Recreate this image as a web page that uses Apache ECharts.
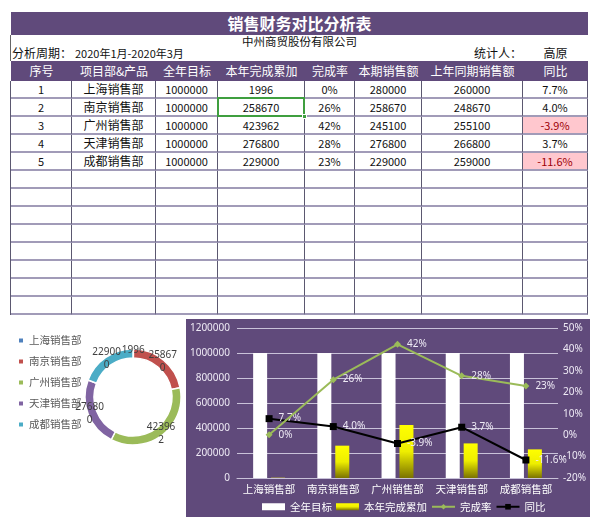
<!DOCTYPE html>
<html><head><meta charset="utf-8">
<script src="https://cdn.jsdelivr.net/npm/echarts@6/dist/echarts.min.js"></script>
<style>
body{margin:0;width:600px;height:527px;background:#fff;position:relative;overflow:hidden;font-family:"Noto Sans CJK SC","Noto Sans",sans-serif;}
.abs{position:absolute;}
.cell{position:absolute;box-sizing:border-box;border-right:1px solid #5b5870;border-bottom:2px solid #a19bb8;text-align:center;line-height:16px;font-size:11px;color:#111;white-space:nowrap;overflow:hidden;}
.hcell{position:absolute;text-align:center;line-height:20px;font-size:12px;color:#fff;white-space:nowrap;}
</style></head><body>
<div id="sheet"></div>
<div id="pie" class="abs" style="left:0;top:318px;width:186px;height:209px"></div>
<div id="combo" class="abs" style="left:186px;top:319px;width:404px;height:198px"></div>
<script>
// ---- data ----
const title = '销售财务对比分析表';
const company = '中州商贸股份有限公司';
const periodLabel = '分析周期：';
const periodValue = '2020年1月-2020年3月';
const statLabel = '统计人：';
const statPerson = '高原';
const headers = ['序号','项目部&产品','全年目标','本年完成累加','完成率','本期销售额','上年同期销售额','同比'];
const departments = ['上海销售部','南京销售部','广州销售部','天津销售部','成都销售部'];
const annualTarget = [1000000,1000000,1000000,1000000,1000000];
const ytdCompleted = [1996,258670,423962,276800,229000];
const completionRate = [0.2,25.9,42.4,27.7,22.9];
const currentSales = [280000,258670,245100,276800,229000];
const lastYearSales = [260000,248670,255100,266800,259000];
const yoyChange = [7.7,4.0,-3.9,3.7,-11.6];
const pieColors = ['#4F81BD','#C0504D','#9BBB59','#8064A2','#4BACC6'];

// ---- sheet layout ----
const colW = [61,84,62,87,50,67,101,65];
const left0 = 11;
const colX = []; { let x = left0; colW.forEach(w => { colX.push(x); x += w; }); }
const totalW = colW.reduce((a,b)=>a+b,0);
const sheet = document.getElementById('sheet');
function add(html){ sheet.insertAdjacentHTML('beforeend', html); }
const purple = '#604A7B';
add(`<div class="abs" style="left:${left0}px;top:12px;width:${totalW}px;height:23px;background:${purple};color:#fff;font-weight:700;font-size:16px;line-height:23px;text-align:center;">${title}</div>`);
add(`<div class="abs" style="left:${left0-1}px;top:35px;width:1px;height:26px;background:#666;"></div>`);
add(`<div class="abs" style="left:${left0}px;top:34px;width:${totalW}px;text-align:center;font-size:11.5px;line-height:15px;color:#111;">${company}</div>`);
add(`<div class="abs" style="left:12px;top:45px;font-size:12px;line-height:15px;color:#111;">${periodLabel}</div>`);
add(`<div class="abs" style="left:75px;top:46px;font-size:11px;line-height:14px;color:#111;">${periodValue}</div>`);
add(`<div class="abs" style="left:474px;top:45px;font-size:12px;line-height:15px;color:#111;">${statLabel}</div>`);
add(`<div class="abs" style="left:${colX[7]}px;top:45px;width:${colW[7]}px;text-align:center;font-size:12px;line-height:15px;color:#111;">${statPerson}</div>`);
add(`<div class="abs" style="left:${left0}px;top:61px;width:${totalW}px;height:20px;background:${purple};"></div>`);
headers.forEach((h,i)=>add(`<div class="hcell" style="left:${colX[i]}px;top:61px;width:${colW[i]}px;">${h.replace('&','&amp;')}</div>`));
const rowH = 18, top0 = 81, nRows = 13;
add(`<div class="abs" style="left:${left0-1}px;top:${top0}px;width:1px;height:${rowH*nRows}px;background:#5b5870;"></div>`);
for(let r=0;r<nRows;r++){
  const vals = r < departments.length ? [r+1, departments[r], annualTarget[r], ytdCompleted[r], Math.round(completionRate[r])+'%', currentSales[r], lastYearSales[r], yoyChange[r].toFixed(1)+'%'] : ['','','','','','','',''];
  vals.forEach((v,c)=>{
    let extra = '';
    if(c===7 && r<departments.length && yoyChange[r]<0) extra = 'background:#FFC7CE;color:#9C0006;';
    if(c===1) extra += 'font-size:12px;';
    add(`<div class="cell" style="left:${colX[c]}px;top:${top0+r*rowH}px;width:${colW[c]}px;height:${rowH}px;${extra}">${v}</div>`);
  });
}
// selected cell highlight (row 2, column 4)
add(`<div class="abs" style="left:${colX[3]-1}px;top:${top0+rowH-2}px;width:${colW[3]+1}px;height:${rowH+2}px;box-sizing:border-box;border:2px solid #3f9f3f;"></div>`);
add(`<div class="abs" style="left:${colX[4]-3}px;top:${top0+2*rowH-3}px;width:5px;height:5px;background:#3f9f3f;border:1px solid #fff;box-sizing:border-box;"></div>`);

// ---- donut ----
const pie = echarts.init(document.getElementById('pie'), null, {renderer:'canvas'});
pie.setOption({
  animation:false,
  color: pieColors,
  legend:{orient:'vertical',left:17,top:16.5,padding:0,itemWidth:6,itemHeight:6,itemGap:9,icon:'rect',
    textStyle:{color:'#595959',fontSize:10.5,lineHeight:12,fontFamily:'Noto Sans CJK SC'},data:departments},
  series:[{type:'pie',center:[133,79],radius:[39,48],startAngle:90,clockwise:true,avoidLabelOverlap:false,
    data: departments.map((d,i)=>({name:d,value:ytdCompleted[i]})),
    itemStyle:{borderColor:'#fff',borderWidth:1.5},
    label:{show:true,position:'inside',color:'#404040',fontSize:10,lineHeight:13,fontFamily:'Noto Sans',
      formatter:p=>{const s=String(p.value);return s.length>5? s.slice(0,5)+'\n'+s.slice(5):s;}},
    labelLine:{show:false}}]
});

// ---- combo ----
const combo = echarts.init(document.getElementById('combo'), null, {renderer:'canvas'});
const yellow = new echarts.graphic.LinearGradient(0,0,0,1,[{offset:0,color:'#ffff00'},{offset:0.5,color:'#eeee00'},{offset:1,color:'#7a7200'}]);
const lblColor = '#eeeaf5';
combo.setOption({
  animation:false,
  backgroundColor: purple,
  textStyle:{fontFamily:'Noto Sans CJK SC'},
  grid:{left:51,right:32,top:9,bottom:39},
  xAxis:{type:'category',data:departments,axisTick:{show:false},
    axisLine:{lineStyle:{color:'#c9c2d9'}},axisLabel:{color:'#fff',fontSize:10.5,margin:6,interval:0,hideOverlap:false}},
  yAxis:[
    {type:'value',min:0,max:1200000,interval:200000,axisLine:{show:false},axisTick:{show:false},
     axisLabel:{color:lblColor,fontSize:10,margin:7,fontFamily:'Noto Sans',formatter:v=>String(v)},splitLine:{lineStyle:{color:'#c9c2d9',width:1}}},
    {type:'value',min:-20,max:50,interval:10,axisLine:{show:false},axisTick:{show:false},
     axisLabel:{color:lblColor,fontSize:10,margin:5,formatter:'{value}%',fontFamily:'Noto Sans'},splitLine:{show:false}}
  ],
  legend:{left:76,bottom:5,padding:0,itemWidth:23,itemHeight:7,itemGap:4,
    textStyle:{color:'#fff',fontSize:10.5},
    data:[{name:'全年目标',icon:'rect'},{name:'本年完成累加',icon:'rect'},'完成率','同比']},
  series:[
    {name:'全年目标',type:'bar',data:annualTarget,barWidth:14,barGap:'28%',itemStyle:{color:'#ffffff'}},
    {name:'本年完成累加',type:'bar',data:ytdCompleted,barWidth:14,itemStyle:{color:yellow}},
    {name:'完成率',type:'line',yAxisIndex:1,data:completionRate,symbol:'diamond',symbolSize:7,z:5,
     lineStyle:{color:'#9BBB59',width:2},itemStyle:{color:'#9BBB59'},
     label:{show:true,position:'right',distance:6,color:lblColor,fontSize:10,fontFamily:'Noto Sans',formatter:p=>Math.round(p.value)+'%'}},
    {name:'同比',type:'line',yAxisIndex:1,data:yoyChange,symbol:'rect',symbolSize:7,z:4,
     lineStyle:{color:'#000',width:2},itemStyle:{color:'#000'},
     label:{show:true,position:'right',distance:6,color:lblColor,fontSize:10,fontFamily:'Noto Sans',formatter:p=>p.value.toFixed(1)+'%'}}
  ]
});
</script>
</body></html>
